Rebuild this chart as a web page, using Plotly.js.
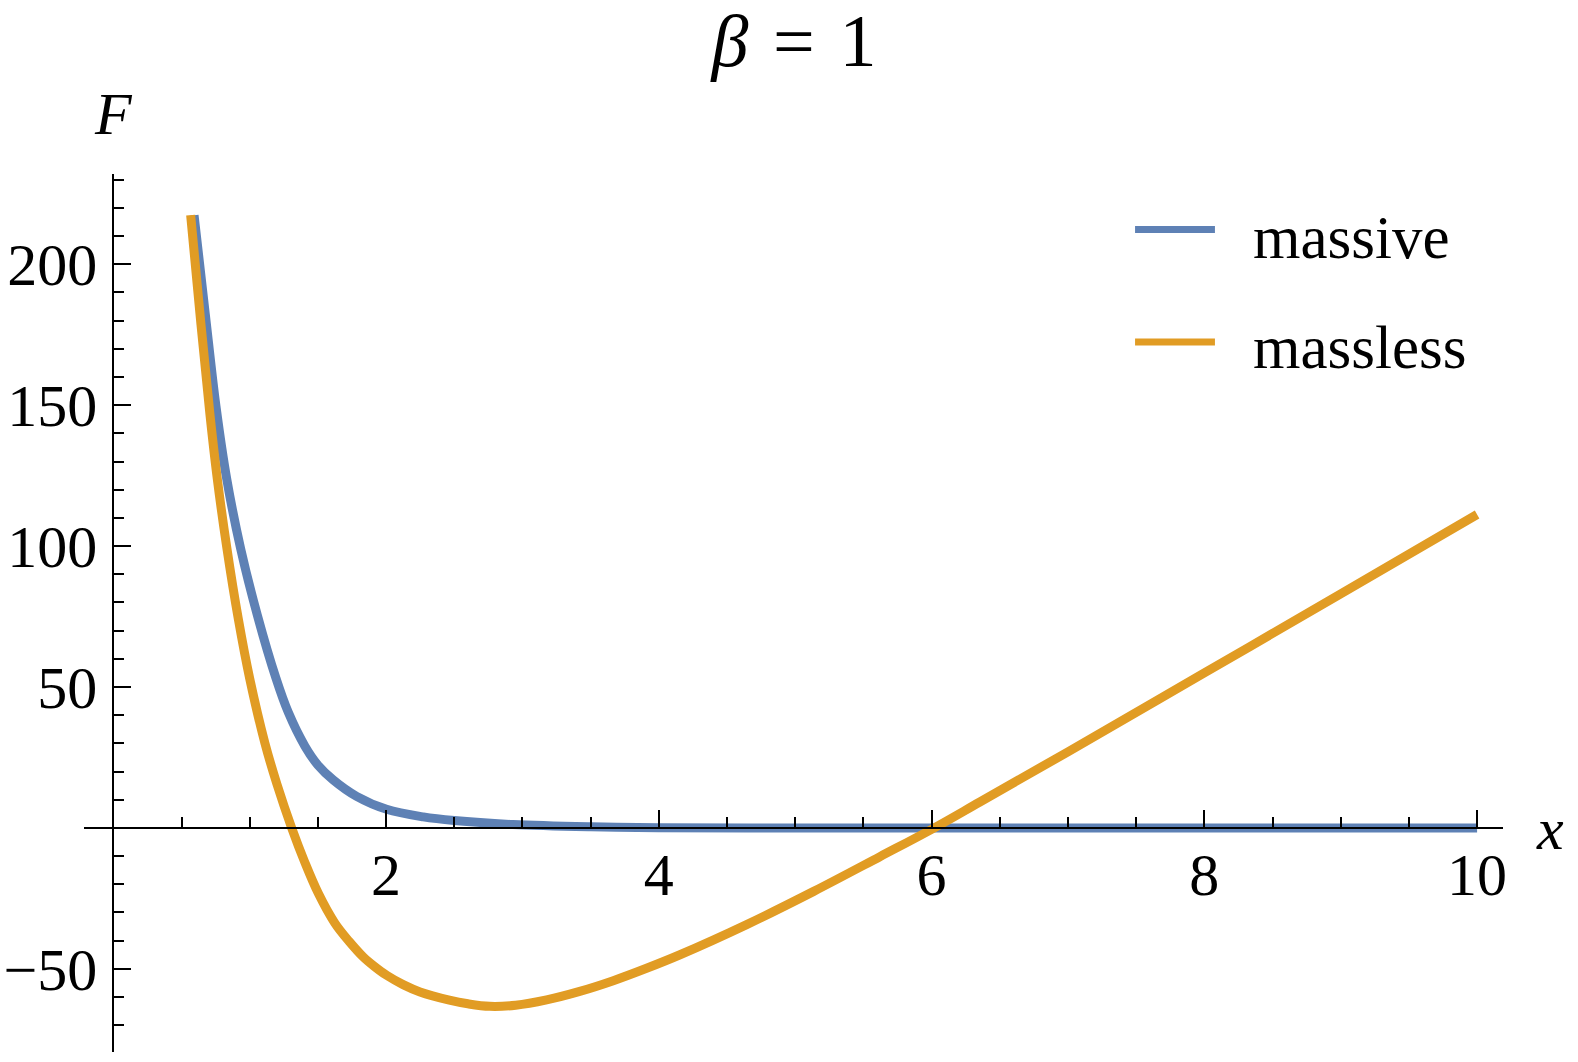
<!DOCTYPE html>
<html>
<head>
<meta charset="utf-8">
<script src="https://cdn.plot.ly/plotly-3.0.1.min.js"></script>
<style>
  html, body { margin: 0; padding: 0; background: #fff; }
  #chart { width: 1578px; height: 1062px; }
</style>
</head>
<body>
<div id="chart"></div>
<script>
// values
const seriesNames = ['massive', 'massless'];

const massiveX = [0.592, 0.675, 0.753, 0.831, 0.934, 1.056, 1.19, 1.283, 1.405, 1.5, 1.613, 1.784,
  2.004, 2.273, 2.5, 2.93, 3.5, 4, 5, 6, 7, 8, 9, 10];
const massiveY = [217.4, 182.0, 149.5, 124.0, 99.0, 75.5, 53.5, 41.0, 29.0, 22.3, 17.0, 11.2,
  6.6, 3.9, 2.6, 1.2, 0.4, 0.1, 0, 0, 0, 0, 0, 0];

const masslessX = [0.567, 0.643, 0.709, 0.762, 0.831, 0.917, 1.0, 1.112, 1.2, 1.308, 1.405, 1.503,
  1.625, 1.73, 1.833, 1.916, 2.004, 2.125, 2.249, 2.464, 2.6, 2.76, 2.95, 3.177, 3.42, 3.666, 3.91,
  4.155, 4.644, 5.132, 5.621, 6.0, 6.354, 7, 8, 9, 10];
const masslessY = [217.4, 178.5, 146.5, 124.0, 99.8, 74.0, 53.0, 30.0, 15.5, 0, -12.3, -23.2,
  -33.8, -40.3, -45.8, -49.2, -52.3, -55.6, -58.2, -61.1, -62.4, -63.3, -62.9, -61.0, -58.0, -54.2, -49.8,
  -45.0, -34.3, -22.6, -10.2, -0.5, 9.2, 27.0, 55.0, 83.0, 111.2];

const xTickVals = [2, 4, 6, 8, 10];
const xTickText = ['2', '4', '6', '8', '10'];
const yTickVals = [-50, 50, 100, 150, 200];
const yTickText = ['\u221250', '50', '100', '150', '200'];

const xRange = [-0.215, 10.19];
const yRange = [-79.5, 232];

const blue = '#5E81B5';
const orange = '#E19C24';
const serif = 'Liberation Serif, Times New Roman, serif';

const traces = [
  {
    type: 'scatter', mode: 'lines', name: seriesNames[0],
    x: massiveX, y: massiveY,
    line: { color: blue, width: 9, shape: 'spline', smoothing: 1 },
  },
  {
    type: 'scatter', mode: 'lines', name: seriesNames[1],
    x: masslessX, y: masslessY,
    line: { color: orange, width: 9, shape: 'spline', smoothing: 1 },
  },
];

// axes cross at the origin
const xAxisPos = (0 - yRange[0]) / (yRange[1] - yRange[0]);
const yAxisPos = (0 - xRange[0]) / (xRange[1] - xRange[0]);

const tickFont = { family: serif, size: 60, color: '#000' };

const layout = {
  width: 1578,
  height: 1062,
  margin: { l: 84, r: 75, t: 174, b: 10 },
  paper_bgcolor: '#fff',
  plot_bgcolor: '#fff',
  showlegend: false,
  title: {
    text: '<i>\u03b2</i>\u2004=\u20041',
    font: { family: serif, size: 74, color: '#000' },
    xref: 'container', x: 794 / 1578, xanchor: 'center',
    yref: 'container', y: 1 - 40 / 1062, yanchor: 'middle',
  },
  xaxis: {
    range: xRange,
    anchor: 'free', position: xAxisPos,
    showgrid: false, zeroline: false,
    showline: true, linecolor: '#000', linewidth: 2,
    tickmode: 'array', tickvals: xTickVals, ticktext: xTickText,
    ticks: 'inside', ticklen: 17, tickwidth: 2, tickcolor: '#000',
    minor: { tickmode: 'linear', tick0: 0, dtick: 0.5, ticks: 'inside', ticklen: 10, tickwidth: 2, tickcolor: '#000' },
    ticklabelstandoff: -6,
    tickfont: tickFont,
  },
  yaxis: {
    range: yRange,
    anchor: 'free', position: yAxisPos,
    showgrid: false, zeroline: false,
    showline: true, linecolor: '#000', linewidth: 2,
    tickmode: 'array', tickvals: yTickVals, ticktext: yTickText,
    ticks: 'inside', ticklen: 17, tickwidth: 2, tickcolor: '#000',
    minor: { tickmode: 'linear', tick0: 0, dtick: 10, ticks: 'inside', ticklen: 10, tickwidth: 2, tickcolor: '#000' },
    ticklabelstandoff: 3,
    tickfont: tickFont,
  },
  shapes: [
    { type: 'line', xref: 'paper', yref: 'paper', x0: 0.7407, x1: 0.797, y0: 0.9368, y1: 0.9368,
      line: { color: blue, width: 7 } },
    { type: 'line', xref: 'paper', yref: 'paper', x0: 0.7407, x1: 0.797, y0: 0.8087, y1: 0.8087,
      line: { color: orange, width: 7 } },
  ],
  annotations: [
    { text: seriesNames[0], xref: 'paper', yref: 'paper', x: 0.8224, y: 0.928, xanchor: 'left', yanchor: 'middle',
      showarrow: false, font: { family: serif, size: 61, color: '#000' } },
    { text: seriesNames[1], xref: 'paper', yref: 'paper', x: 0.8224, y: 0.8027, xanchor: 'left', yanchor: 'middle',
      showarrow: false, font: { family: serif, size: 61, color: '#000' } },
    { text: '<i>F</i>', xref: 'paper', yref: 'paper', x: 0.0211, y: 1.068, xanchor: 'center', yanchor: 'middle',
      showarrow: false, font: { family: serif, size: 60, color: '#000' } },
    { text: '<i>x</i>', xref: 'paper', yref: 'paper', x: 1.033, y: 0.254, xanchor: 'center', yanchor: 'middle',
      showarrow: false, font: { family: serif, size: 60, color: '#000' } },
  ],
};

Plotly.newPlot('chart', traces, layout, { displayModeBar: false, staticPlot: true });
</script>
</body>
</html>
